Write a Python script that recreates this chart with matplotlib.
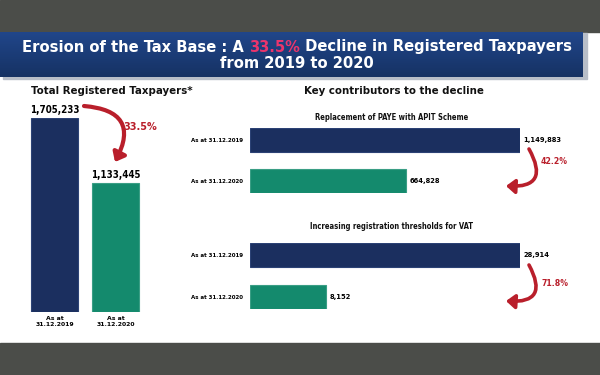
import matplotlib
matplotlib.use("Agg")
import matplotlib.pyplot as plt
from matplotlib.patches import Rectangle, FancyArrowPatch
from matplotlib.colors import LinearSegmentedColormap
import numpy as np

# ---------------- data ----------------
total_categories = ["As at\n31.12.2019", "As at\n31.12.2020"]
total_values = [1705233, 1133445]
total_decline = "33.5%"

paye_categories = ["As at 31.12.2019", "As at 31.12.2020"]
paye_values = [1149883, 664828]
paye_decline = "42.2%"

vat_categories = ["As at 31.12.2019", "As at 31.12.2020"]
vat_values = [28914, 8152]
vat_decline = "71.8%"

title_pre = "Erosion of the Tax Base : A "
title_hl = "33.5%"
title_post = " Decline in Registered Taxpayers"
title_line2 = "from 2019 to 2020"

# ---------------- style ----------------
NAVY = "#1b2f5f"
GREEN = "#148a6d"
RED = "#b91f2b"
PINK = "#ea356c"
GREY = "#4b4d49"
FAM = "DejaVu Sans"
ST = "condensed"

W, H = 600, 375
fig = plt.figure(figsize=(6, 3.75), dpi=100)
fig.patch.set_facecolor("white")


def fx(x):
    return x / W


def fy(y):
    return 1 - y / H


def add_ax(l, t, r, b, z=0):
    ax = fig.add_axes([fx(l), fy(b), (r - l) / W, (b - t) / H])
    ax.set_zorder(z)
    return ax


def ftext(x, y, s, **kw):
    kw.setdefault("fontweight", "bold")
    kw.setdefault("family", FAM)
    kw.setdefault("fontstretch", ST)
    kw.setdefault("ha", "center")
    kw.setdefault("va", "center")
    kw.setdefault("color", "#111111")
    return fig.text(fx(x), fy(y), s, **kw)


# grey bands
fig.patches.append(Rectangle((0, fy(32)), 1, 32 / H, transform=fig.transFigure,
                             color=GREY, zorder=-2))
fig.patches.append(Rectangle((0, 0), 1, fy(343), transform=fig.transFigure,
                             color=GREY, zorder=-2))
# banner shadow + banner
fig.patches.append(Rectangle((fx(3), fy(79)), fx(584), (79 - 33) / H, transform=fig.transFigure,
                             color="#b8bec8", zorder=-1))
bax = add_ax(0, 32, 583, 77, z=0.5)
grad = np.linspace(0, 1, 50).reshape(-1, 1)
cm = LinearSegmentedColormap.from_list("b", ["#21468a", "#1b3c77", "#163263"])
bax.imshow(grad, aspect="auto", cmap=cm, extent=[0, 1, 0, 1], origin="upper")
bax.set_axis_off()

# title line 1 with highlighted pieces
fs_title = 11.8
renderer = fig.canvas.get_renderer()
pieces = [(title_pre, "white"), (title_hl, PINK), (title_post, "white")]
tmp = [ftext(0, 0, p, fontsize=fs_title) for p, _ in pieces]
widths = [t.get_window_extent(renderer).width for t in tmp]
for t in tmp:
    t.remove()
full = ftext(0, 0, title_pre + title_hl + title_post, fontsize=fs_title)
fullw = full.get_window_extent(renderer).width
full.remove()
scale = fullw / sum(widths)
x0 = 297 - fullw / 2
for (p, c), w in zip(pieces, widths):
    ftext(x0, 47, p, color=c, fontsize=fs_title, ha="left", zorder=3)
    x0 += w * scale
ftext(297, 64, title_line2, color="white", fontsize=fs_title, zorder=3)

# ---------------- left panel ----------------
ftext(112, 91, "Total Registered Taxpayers*", fontsize=8.2)

axL = add_ax(25, 118, 150, 312)
xs = np.arange(len(total_values))
axL.bar(xs, total_values, width=0.77, color=[NAVY, GREEN],
        edgecolor=["#2c4275", "#3a9e85"], linewidth=0.8)
axL.set_xlim(-0.49, 1.557)
axL.set_ylim(0, max(total_values))
axL.set_xticks(xs)
axL.set_xticklabels(total_categories, fontsize=4.4, fontweight="bold", linespacing=1.15)
axL.tick_params(axis="x", length=0, pad=3)
axL.set_yticks([])
for s in axL.spines.values():
    s.set_visible(False)
axL.patch.set_alpha(0)
for x, v in zip(xs, total_values):
    axL.annotate(f"{v:,}", (x, v), xytext=(0, 2.5), textcoords="offset points",
                 ha="center", va="bottom", fontsize=7, fontweight="bold",
                 family=FAM, fontstretch=ST, annotation_clip=False)


def curved_arrow(p0, p1, rad, lw=3.0):
    a = FancyArrowPatch((fx(p0[0]), fy(p0[1])), (fx(p1[0]), fy(p1[1])),
                        transform=fig.transFigure,
                        connectionstyle=f"arc3,rad={rad}",
                        arrowstyle="-|>,head_length=3.2,head_width=2.6",
                        color=RED, lw=lw, zorder=5, mutation_scale=1.6,
                        shrinkA=0, shrinkB=0)
    fig.patches.append(a)


curved_arrow((84, 106), (115, 162), -0.75)
ftext(140, 127, total_decline, color=RED, fontsize=7.8)

# ---------------- right panel ----------------
ftext(394, 91, "Key contributors to the decline", fontsize=8.2)


def hpanel(top, bottom, title, title_y, cats, vals, pct, arrow_from, arrow_to, pct_xy):
    ftext(392, title_y, title, fontsize=5.5)
    ax = add_ax(250, top, 520, bottom)
    ys = np.arange(len(vals))
    ax.barh(ys, vals, height=0.58, color=[NAVY, GREEN],
            edgecolor=["#2c4275", "#3a9e85"], linewidth=0.8)
    ax.set_xlim(0, max(vals))
    ax.set_ylim(1.29, -0.29)
    ax.set_yticks(ys)
    ax.set_yticklabels(cats, fontsize=4.0, fontweight="bold")
    ax.tick_params(axis="y", length=0, pad=5)
    ax.set_xticks([])
    for s in ax.spines.values():
        s.set_visible(False)
    ax.patch.set_alpha(0)
    for y, v in zip(ys, vals):
        ax.annotate(f"{v:,}", (v, y), xytext=(2.5, 0), textcoords="offset points",
                    ha="left", va="center", fontsize=5.4, fontweight="bold",
                    family=FAM, fontstretch=ST, annotation_clip=False)
    curved_arrow(arrow_from, arrow_to, -0.9, lw=2.6)
    ftext(pct_xy[0], pct_xy[1], pct, color=RED, fontsize=6.2, fontweight="bold")


hpanel(128, 193, "Replacement of PAYE with APIT Scheme", 118, paye_categories, paye_values,
       paye_decline, (529, 149), (506, 186), (554, 162))
hpanel(243, 309, "Increasing registration thresholds for VAT", 227, vat_categories, vat_values,
       vat_decline, (529, 265), (506, 301), (555, 283))

fig.savefig("out.png", dpi=100)
